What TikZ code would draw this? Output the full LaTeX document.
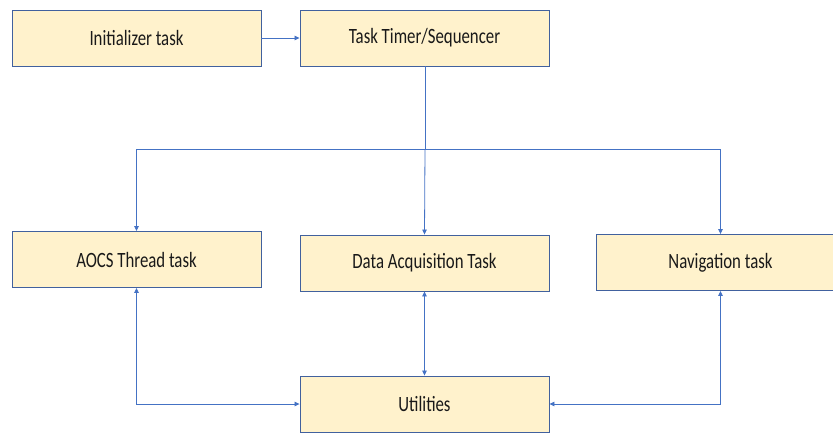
\documentclass[tikz,border=0pt]{standalone}
\usepackage{fontspec}
\setmainfont{Carlito}
\usetikzlibrary{arrows.meta}
\definecolor{boxfill}{HTML}{FFF2CC}
\definecolor{boxline}{HTML}{41619E}
\definecolor{arr}{HTML}{4472C4}
\newcommand{\boxtext}[1]{\scalebox{1}[1.3]{\fontsize{16.8}{18}\selectfont #1}}
\begin{document}
\begin{tikzpicture}[x=1pt,y=-1pt,
  taskbox/.style={draw=boxline,line width=0.9pt,fill=boxfill,minimum width=249pt,minimum height=56pt,inner sep=0pt,text=black!90},
  conn/.style={draw=arr,line width=0.8pt},
  tip/.style={-{Triangle[length=5pt,width=4.5pt]}},
  tips/.style={{Triangle[length=5pt,width=4.5pt]}-{Triangle[length=5pt,width=4.5pt]}}]
\useasboundingbox (0,0) rectangle (833,432);
\clip (0,0) rectangle (833,432);
\node[taskbox] (init) at (136.5,38) {\boxtext{Initializer task}};
\node[taskbox] (timer) at (424.5,38) {\boxtext{Task Timer/Sequencer}};
\node[taskbox] (aocs) at (136.5,259.5) {\boxtext{AOCS Thread task}};
\node[taskbox] (daq) at (424.5,263) {\boxtext{Data Acquisition Task}};
\node[taskbox] (nav) at (720.5,262.5) {\boxtext{Navigation task}};
\node[taskbox] (util) at (424.5,404) {\boxtext{Utilities}};
\coordinate (split) at (425,149);
\draw[conn,tip] (init.east) -- (timer.west);
\draw[conn] (timer.south -| split) -- (split);
\draw[conn,tip] (split) -- (split -| aocs) -- (aocs.north);
\draw[conn,tip] (split) -- (daq.north);
\draw[conn,tip] (split) -- (split -| nav) -- (nav.north);
\draw[conn,tips] (aocs.south) |- (util.west);
\draw[conn,tips] (daq.south) -- (util.north);
\draw[conn,tips] (nav.south) |- (util.east);
\end{tikzpicture}
\end{document}
